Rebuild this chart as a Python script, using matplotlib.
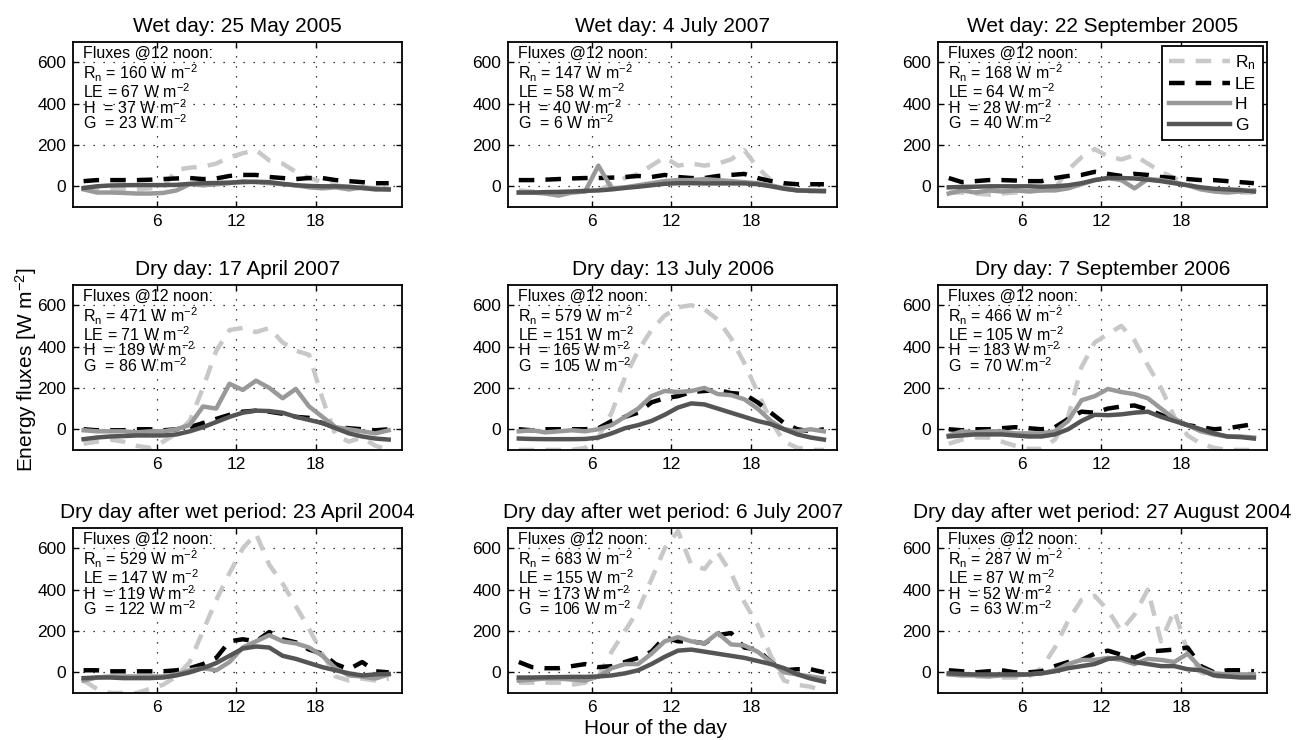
import numpy as np
import matplotlib
matplotlib.use('Agg')
import matplotlib.pyplot as plt

plt.rcParams['font.family'] = ['Liberation Sans', 'DejaVu Sans']
plt.rcParams['mathtext.fontset'] = 'custom'
plt.rcParams['mathtext.rm'] = 'Liberation Sans'
plt.rcParams['mathtext.it'] = 'Liberation Sans'

# hour of the day (hourly values)
hours = np.arange(0.5, 24.0, 1.0)

titles = ['Wet day: 25 May 2005', 'Wet day: 4 July 2007', 'Wet day: 22 September 2005',
          'Dry day: 17 April 2007', 'Dry day: 13 July 2006', 'Dry day: 7 September 2006',
          'Dry day after wet period: 23 April 2004', 'Dry day after wet period: 6 July 2007',
          'Dry day after wet period: 27 August 2004']

# noon fluxes written in each panel: Rn, LE, H, G
noon_rn = [160, 147, 168, 471, 579, 466, 529, 683, 287]
noon_le = [67, 58, 64, 71, 151, 105, 147, 155, 87]
noon_h = [37, 40, 28, 189, 165, 183, 119, 173, 52]
noon_g = [23, 6, 40, 86, 105, 70, 122, 106, 63]

rn = [
    [-10, -15, -15, -15, -15, -10, -5, 80, 90, 95, 110, 140, 160, 175, 125, 110, 70, 40, 20, 5, -5, -10, -10, -10],
    [-20, -25, -30, -30, -30, -25, -20, 10, 40, 60, 100, 140, 100, 110, 100, 110, 130, 175, 90, 30, 0, -20, -25, -25],
    [-30, -30, -35, -40, -35, -30, -25, -20, -10, 80, 140, 180, 145, 130, 150, 110, 70, 40, 10, -10, -20, -25, -30, -30],
    [-70, -60, -50, -60, -80, -90, -60, -20, 40, 200, 380, 480, 490, 470, 490, 420, 380, 360, 150, -30, -60, -40, -80, -100],
    [-100, -100, -100, -100, -100, -90, -40, 80, 250, 380, 480, 550, 590, 600, 580, 530, 440, 320, 180, 40, -60, -90, -100, -100],
    [-70, -50, -40, -40, -60, -80, -95, -95, -50, 60, 300, 420, 460, 500, 430, 310, 200, 60, -30, -70, -90, -100, -100, -100],
    [-40, -80, -100, -100, -100, -80, -60, -20, 50, 200, 350, 480, 600, 670, 520, 430, 320, 210, 90, -20, -40, -30, -40, -30],
    [-50, -50, -50, -50, -60, -50, -20, 100, 200, 300, 450, 600, 683, 520, 500, 580, 480, 340, 230, 80, -40, -60, -70, -90],
    [-10, -15, -20, -20, -25, -25, -20, 20, 120, 250, 350, 370, 300, 200, 280, 400, 150, 300, 100, 0, -20, -20, -20, -20],
]
le = [
    [25, 30, 30, 30, 30, 32, 35, 38, 40, 35, 38, 50, 55, 55, 45, 40, 35, 40, 40, 30, 25, 20, 15, 15],
    [30, 30, 32, 35, 38, 40, 40, 42, 45, 50, 45, 55, 45, 40, 40, 50, 55, 60, 40, 25, 15, 10, 10, 10],
    [40, 20, 25, 30, 30, 28, 25, 25, 40, 50, 55, 70, 60, 50, 60, 55, 45, 40, 35, 30, 30, 25, 20, 15],
    [0, -5, -5, -5, 0, 0, -5, 0, 10, 30, 50, 70, 85, 90, 85, 75, 60, 55, 30, 10, 5, 0, -5, 0],
    [0, -5, 0, 0, 0, 0, 5, 40, 60, 80, 130, 150, 160, 180, 185, 190, 175, 170, 130, 80, 30, 0, -10, 0],
    [0, -5, 0, 0, 5, 10, 5, 0, 10, 50, 85, 80, 100, 110, 115, 95, 70, 40, 20, 10, 0, 5, 15, 25],
    [10, 10, 5, 5, 5, 5, 5, 10, 20, 40, 70, 150, 160, 150, 195, 160, 145, 110, 90, 40, 15, 50, 5, 0],
    [50, 25, 20, 20, 30, 40, 25, 30, 50, 70, 100, 170, 150, 150, 140, 180, 190, 120, 110, 50, 10, 15, 15, 0],
    [10, 5, 0, 5, 10, 0, 0, 5, 30, 50, 60, 90, 105, 85, 70, 100, 105, 110, 120, 30, 0, 10, 10, 5],
]
h = [
    [-15, -30, -30, -32, -35, -35, -32, -20, 10, 5, 10, 15, 25, 20, 15, 10, 5, -5, -10, -5, -15, -5, -10, -15],
    [-30, -30, -35, -45, -30, -25, 100, -10, -5, 5, 15, 25, 30, 30, 35, 30, 25, 20, 15, 5, -10, -20, -20, -25],
    [-35, -20, -30, -20, -25, -20, -25, -20, -20, -10, 10, 30, 40, 30, -10, 35, 30, 20, 5, -15, -25, -30, -25, -20],
    [-5, -10, -10, -10, -15, -10, -10, 0, 20, 110, 100, 220, 190, 235, 200, 150, 195, 110, 60, 10, 0, -10, -20, -5],
    [-10, -5, -15, -10, -5, -10, 0, 20, 60, 100, 160, 185, 180, 185, 200, 170, 165, 145, 100, 40, 0, -10, 0, -10],
    [-30, -10, -15, -10, -10, -20, -20, -20, -10, 40, 140, 160, 195, 180, 170, 150, 100, 50, 20, -10, -25, -35, -35, -40],
    [-40, -25, -20, -20, -20, -20, -20, -10, 10, 20, 10, 50, 120, 150, 180, 150, 140, 120, 80, 20, -15, -20, -30, -10],
    [-40, -35, -30, -30, -35, -40, -20, 20, 40, 40, 90, 150, 170, 150, 140, 190, 135, 130, 100, 50, 0, -10, -20, -30],
    [-10, -15, -15, -20, -15, -15, -10, -5, 10, 40, 60, 60, 70, 60, 40, 65, 60, 50, 90, 20, -5, -10, -10, -10],
]
g = [
    [-8, 0, 4, 5, 6, 6, 6, 7, 12, 15, 16, 18, 20, 22, 20, 12, 5, 2, 0, 0, -2, -8, -15, -15],
    [-30, -30, -28, -27, -25, -22, -20, -15, -8, -2, 5, 12, 15, 15, 14, 14, 14, 14, 10, 0, -12, -20, -22, -22],
    [-5, -3, -2, 0, 0, 0, 0, -2, 0, 5, 15, 30, 40, 40, 38, 32, 25, 15, 5, -5, -12, -15, -18, -25],
    [-48, -40, -35, -33, -30, -30, -30, -25, -10, 10, 35, 60, 80, 90, 88, 80, 60, 45, 30, 5, -20, -35, -45, -50],
    [-45, -47, -48, -48, -48, -47, -40, -20, 5, 20, 40, 70, 105, 125, 120, 100, 80, 60, 40, 25, 0, -25, -40, -50],
    [-35, -30, -25, -25, -25, -30, -35, -35, -25, 0, 40, 70, 68, 72, 80, 85, 60, 40, 20, 0, -20, -35, -38, -45],
    [-28, -25, -25, -28, -28, -28, -25, -15, 0, 20, 45, 80, 115, 125, 120, 80, 65, 45, 25, 10, -5, -15, -10, -8],
    [-25, -25, -24, -23, -22, -22, -20, -15, -5, 10, 40, 75, 105, 110, 100, 90, 80, 70, 55, 40, 20, -10, -30, -45],
    [-5, -8, -10, -10, -10, -10, -10, -5, 5, 20, 30, 40, 65, 70, 50, 40, 30, 30, 15, 10, -15, -20, -25, -25],
]

c_rn = '#c8c8c8'
c_le = '#000000'
c_h = '#999999'
c_g = '#555555'
lw = 3.2

fig = plt.figure(figsize=(13.03, 7.40), dpi=100)

lefts = [0.056, 0.390, 0.720]
bottoms = [0.7203, 0.392, 0.0635]
width, height = 0.2525, 0.2235

for i in range(9):
    r, c = divmod(i, 3)
    ax = fig.add_axes([lefts[c], bottoms[r], width, height])
    l1, = ax.plot(hours, rn[i], color=c_rn, lw=lw, dashes=(3.5, 2.5), label='R$_n$')
    l2, = ax.plot(hours, le[i], color=c_le, lw=lw, dashes=(3.5, 2.5), label='LE')
    l3, = ax.plot(hours, h[i], color=c_h, lw=lw, label='H')
    l4, = ax.plot(hours, g[i], color=c_g, lw=lw, label='G')
    ax.set_xlim(-0.3, 24.5)
    ax.set_ylim(-100, 700)
    ax.set_xticks([6, 12, 18])
    ax.set_yticks([0, 200, 400, 600])
    ax.tick_params(direction='in', length=4, width=1, labelsize=12.5,
                   top=True, right=True, pad=5)
    ax.grid(True, color='black', linestyle=(0, (1, 7)), linewidth=0.9)
    for s in ax.spines.values():
        s.set_linewidth(1.3)
    ax.set_title(titles[i], fontsize=15, pad=7)

    tx = 0.03
    fs = 11.5
    ax.text(tx, 0.900, 'Fluxes @12 noon:', transform=ax.transAxes, fontsize=fs, va='baseline')
    ax.text(tx, 0.770, 'R$_n$ = %d W m$^{-2}$' % noon_rn[i], transform=ax.transAxes, fontsize=fs, va='baseline')
    ax.text(tx, 0.660, 'LE = %d W m$^{-2}$' % noon_le[i], transform=ax.transAxes, fontsize=fs, va='baseline')
    ax.text(tx, 0.565, 'H  = %d W m$^{-2}$' % noon_h[i], transform=ax.transAxes, fontsize=fs, va='baseline')
    ax.text(tx, 0.470, 'G  = %d W m$^{-2}$' % noon_g[i], transform=ax.transAxes, fontsize=fs, va='baseline')

    if i == 2:
        leg = ax.legend(handles=[l1, l2, l3, l4], loc='upper right', fontsize=12.5,
                        fancybox=False, framealpha=1, edgecolor='black',
                        handlelength=3.5, handletextpad=0.3, borderpad=0.4,
                        labelspacing=0.3, borderaxespad=0.25)
        leg.get_frame().set_linewidth(1.3)

fig.text(0.020, 0.5, 'Energy fluxes [W m$^{-2}$]', rotation=90, fontsize=15,
         ha='center', va='center')
fig.text(0.503, 0.016, 'Hour of the day', fontsize=15, ha='center', va='center')

fig.savefig('out.png', dpi=100)
